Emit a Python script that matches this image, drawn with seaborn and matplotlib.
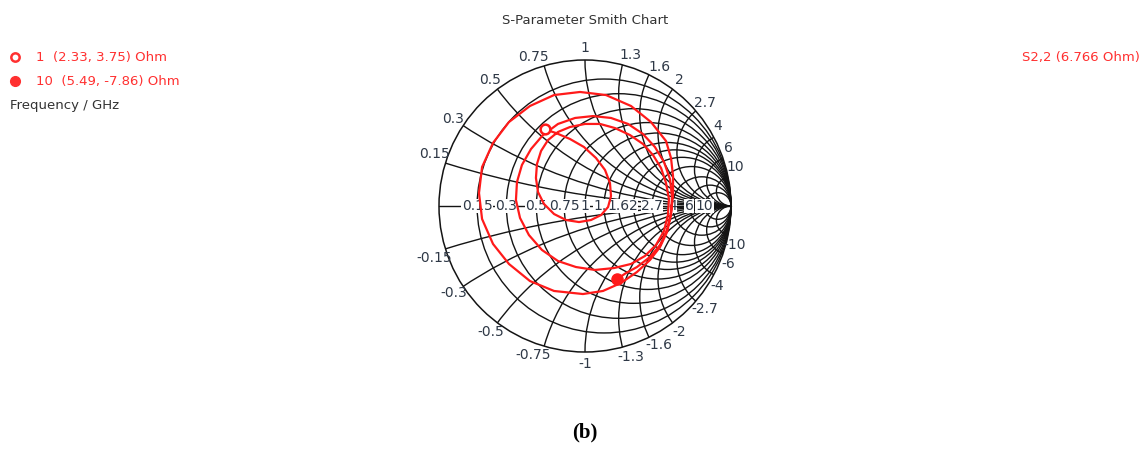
import numpy as np
import matplotlib
matplotlib.use("Agg")
import matplotlib.pyplot as plt
from matplotlib.patches import Circle
from matplotlib.lines import Line2D
import seaborn as sns
import pandas as pd

sns.set_style("white")
plt.rcParams['font.family'] = ['DejaVu Sans']

# ---------------- data ----------------
title = "S-Parameter Smith Chart"
trace_name = "S2,2 (6.766 Ohm)"
z_ref = 6.766
marker_labels = ["1", "10"]
marker_R = [2.33, 5.49]      # Ohm
marker_X = [3.75, -7.86]     # Ohm
freq_label = "Frequency / GHz"
panel_label = "(b)"
grid_values = [0.15, 0.3, 0.5, 0.75, 1, 1.3, 1.6, 2, 2.7, 4, 6, 10]
grid_labels = ["0.15", "0.3", "0.5", "0.75", "1", "1.3", "1.6", "2", "2.7", "4", "6", "10"]

# S2,2 reflection coefficient trace (real / imaginary), 1 GHz -> 10 GHz
s22_re = [-0.272, -0.199, -0.103, -0.007, 0.075, 0.137, 0.171, 0.178, 0.158, 0.110,
          0.041, -0.041, -0.130, -0.212, -0.281, -0.322, -0.336, -0.329, -0.301, -0.253,
          -0.185, -0.103, 0.000, 0.103, 0.205, 0.308, 0.397, 0.466, 0.521, 0.555,
          0.575, 0.568, 0.541, 0.486, 0.411, 0.315, 0.199, 0.068, -0.062, -0.185,
          -0.295, -0.384, -0.445, -0.473, -0.466, -0.432, -0.370, -0.288, -0.185, -0.068,
          0.055, 0.178, 0.295, 0.397, 0.479, 0.541, 0.582, 0.596, 0.589, 0.562,
          0.514, 0.445, 0.356, 0.247, 0.123, -0.014, -0.212, -0.377, -0.521, -0.630,
          -0.705, -0.726, -0.705, -0.630, -0.521, -0.377, -0.212, -0.034, 0.144, 0.315,
          0.452, 0.555, 0.589, 0.603, 0.603, 0.589, 0.562, 0.514, 0.445, 0.356,
          0.281, 0.218]
s22_im = [0.524, 0.500, 0.459, 0.404, 0.329, 0.247, 0.158, 0.068, -0.007, -0.062,
          -0.096, -0.110, -0.096, -0.055, 0.014, 0.096, 0.192, 0.288, 0.377, 0.452,
          0.507, 0.541, 0.562, 0.562, 0.534, 0.486, 0.425, 0.349, 0.260, 0.158,
          0.048, -0.062, -0.171, -0.267, -0.342, -0.397, -0.425, -0.438, -0.418, -0.377,
          -0.301, -0.199, -0.082, 0.041, 0.164, 0.281, 0.390, 0.486, 0.562, 0.603,
          0.616, 0.603, 0.562, 0.493, 0.404, 0.301, 0.185, 0.062, -0.062, -0.178,
          -0.281, -0.370, -0.452, -0.527, -0.582, -0.603, -0.582, -0.514, -0.397, -0.260,
          -0.089, 0.089, 0.267, 0.432, 0.575, 0.685, 0.760, 0.781, 0.760, 0.685,
          0.575, 0.445, 0.329, 0.205, 0.075, -0.048, -0.164, -0.267, -0.349, -0.418,
          -0.459, -0.502]

# ---------------- figure ----------------
W, H = 1148, 449
fig = plt.figure(figsize=(W / 100, H / 100), dpi=100)
cx, cy, R = 585, 206, 146          # chart centre / radius in px
half = 1.25 * R
ax = fig.add_axes([(cx - half) / W, (H - cy - half) / H, 2 * half / W, 2 * half / H])

grid_col = '#141414'
lab_col = '#2e3846'
glw = 1.0

clip = Circle((0, 0), 1.0, transform=ax.transData, fill=False, lw=0)
ax.add_patch(clip)

# resistance circles
for r in grid_values:
    c = Circle((r / (1 + r), 0), 1 / (1 + r), fill=False, lw=glw, ec=grid_col, zorder=1)
    ax.add_patch(c)
# reactance arcs
for x in grid_values:
    for s in (1, -1):
        c = Circle((1, s / x), 1 / x, fill=False, lw=glw, ec=grid_col, zorder=1)
        ax.add_patch(c)
        c.set_clip_path(clip)
# real axis and outer circle
ax.plot([-1, 1], [0, 0], color=grid_col, lw=glw, zorder=1)
ax.add_patch(Circle((0, 0), 1.0, fill=False, lw=1.1, ec=grid_col, zorder=1))

# real-axis labels
for r, lab in zip(grid_values, grid_labels):
    g = (r - 1) / (r + 1)
    ax.text(g, 0, lab, ha='center', va='center', fontsize=10, color=lab_col, zorder=3,
            bbox=dict(facecolor='white', edgecolor='none', pad=0.3))

# reactance labels around the rim (small angular nudges to keep clear of the rim lines)
def nudge(x):
    if x >= 4:
        return np.deg2rad(3.0), 1.06
    if x in (1.3, 1.6):
        return np.deg2rad(-2.0), 1.08
    if x == 0.75:
        return np.deg2rad(3.0), 1.08
    if x == 0.15:
        return np.deg2rad(-2.0), 1.09
    return 0.0, 1.08

for x, lab in zip(grid_values, grid_labels):
    th = np.pi - 2 * np.arctan(x)
    d, rr = nudge(x)
    t = th + d
    ax.text(rr * np.cos(t), rr * np.sin(t), lab, ha='center', va='center',
            fontsize=10, color=lab_col)
    ax.text(rr * np.cos(t), -rr * np.sin(t), "-" + lab, ha='center', va='center',
            fontsize=10, color=lab_col)

# trace
df = pd.DataFrame({"re": s22_re, "im": s22_im})
sns.lineplot(data=df, x="re", y="im", sort=False, estimator=None, color='#ff1a1a',
             lw=1.6, ax=ax, zorder=4, solid_joinstyle='round', solid_capstyle='round')

# markers from marker impedances
zs = (np.array(marker_R) + 1j * np.array(marker_X)) / z_ref
gm = (zs - 1) / (zs + 1)
ax.plot(gm[0].real, gm[0].imag, 'o', ms=7, mfc='white', mec='#ff1a1a', mew=1.8, zorder=5)
ax.plot(gm[1].real, gm[1].imag, 'o', ms=8, mfc='#ff1a1a', mec='#ff1a1a', zorder=5)

ax.set_xlim(-1.25, 1.25)
ax.set_ylim(-1.25, 1.25)
ax.axis('off')

# ---------------- texts ----------------
def fy(py):
    return 1 - py / H

red_txt = '#ff3030'
fig.text(cx / W, fy(20), title, ha='center', va='center', fontsize=9.5, color='#333333')
fig.add_artist(Line2D([15 / W], [fy(57)], marker='o', ms=6, mfc='white', mec=red_txt,
                      mew=1.8, transform=fig.transFigure))
fig.add_artist(Line2D([15 / W], [fy(81)], marker='o', ms=7, mfc=red_txt, mec=red_txt,
                      transform=fig.transFigure))
fig.text(36 / W, fy(57), f"{marker_labels[0]}  ({marker_R[0]:.2f}, {marker_X[0]:.2f}) Ohm",
         ha='left', va='center', fontsize=9.5, color=red_txt)
fig.text(36 / W, fy(81), f"{marker_labels[1]}  ({marker_R[1]:.2f}, {marker_X[1]:.2f}) Ohm",
         ha='left', va='center', fontsize=9.5, color=red_txt)
fig.text(10 / W, fy(105), freq_label, ha='left', va='center', fontsize=9.5, color='#333333')
fig.text(1140 / W, fy(58), trace_name, ha='right', va='center', fontsize=9.5, color=red_txt)
fig.text(cx / W, fy(432), panel_label, ha='center', va='center', fontsize=15,
         fontweight='bold', family=['Liberation Serif'], color='black')

fig.savefig("out.png", dpi=100, facecolor='white')
